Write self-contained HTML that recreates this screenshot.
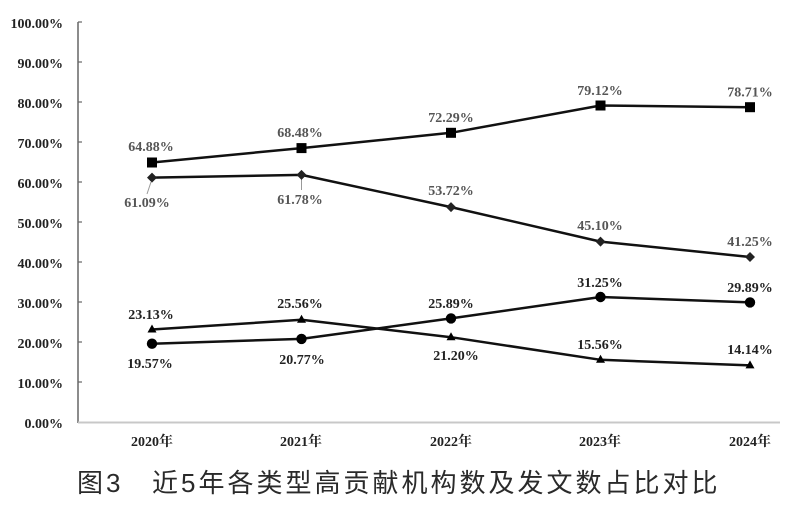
<!DOCTYPE html>
<html>
<head>
<meta charset="utf-8">
<style>
html,body{margin:0;padding:0;background:#fff;}
body{width:808px;height:508px;position:relative;overflow:hidden;}
svg{position:absolute;left:0;top:0;}
.t{font-family:"Liberation Serif","Noto Serif CJK SC",serif;font-weight:bold;font-size:14px;}
.title{position:absolute;top:468px;font-family:"Liberation Sans","Noto Sans CJK SC",sans-serif;font-size:26px;color:#2a2a2a;letter-spacing:3px;white-space:nowrap;line-height:30px;}
</style>
</head>
<body>
<svg width="808" height="508" viewBox="0 0 808 508" xmlns="http://www.w3.org/2000/svg">
  <!-- axes -->
  <line x1="78" y1="22" x2="78" y2="423" stroke="#666" stroke-width="1.5"/>
  <line x1="78" y1="422.5" x2="780" y2="422.5" stroke="#c8c8c8" stroke-width="2"/>
  <g stroke="#666" stroke-width="1.2">
    <line x1="78" y1="22" x2="82" y2="22"/>
    <line x1="78" y1="62" x2="82" y2="62"/>
    <line x1="78" y1="102" x2="82" y2="102"/>
    <line x1="78" y1="142" x2="82" y2="142"/>
    <line x1="78" y1="182" x2="82" y2="182"/>
    <line x1="78" y1="222" x2="82" y2="222"/>
    <line x1="78" y1="262" x2="82" y2="262"/>
    <line x1="78" y1="302" x2="82" y2="302"/>
    <line x1="78" y1="342" x2="82" y2="342"/>
    <line x1="78" y1="382" x2="82" y2="382"/>
  </g>
  <!-- y tick labels -->
  <g class="t" fill="#222" text-anchor="end">
    <text x="63" y="28">100.00%</text>
    <text x="63" y="68">90.00%</text>
    <text x="63" y="108">80.00%</text>
    <text x="63" y="148">70.00%</text>
    <text x="63" y="188">60.00%</text>
    <text x="63" y="228">50.00%</text>
    <text x="63" y="268">40.00%</text>
    <text x="63" y="308">30.00%</text>
    <text x="63" y="348">20.00%</text>
    <text x="63" y="388">10.00%</text>
    <text x="63" y="428">0.00%</text>
  </g>
  <!-- x labels -->
  <g class="t" fill="#222" text-anchor="middle">
    <text x="152" y="446">2020年</text>
    <text x="301" y="446">2021年</text>
    <text x="451" y="446">2022年</text>
    <text x="600" y="446">2023年</text>
    <text x="750" y="446">2024年</text>
  </g>
  <!-- series lines -->
  <g fill="none" stroke="#111" stroke-width="2.5" stroke-linejoin="round">
    <polyline points="152,162.5 301.5,148.1 451,132.8 600.5,105.5 750,107.2"/>
    <polyline points="152,177.6 301.5,174.9 451,207.1 600.5,241.6 750,257"/>
    <polyline points="152,343.7 301.5,338.9 451,318.4 600.5,297 750,302.4"/>
    <polyline points="152,329.5 301.5,319.8 451,337.2 600.5,359.8 750,365.4"/>
  </g>
  <!-- leader lines -->
  <g stroke="#999" stroke-width="1">
    <line x1="151" y1="182" x2="147" y2="194"/>
    <line x1="301.5" y1="179" x2="301.5" y2="190"/>
  </g>
  <!-- squares -->
  <g fill="#000">
    <rect x="147" y="157.5" width="10" height="10"/>
    <rect x="296.5" y="143.1" width="10" height="10"/>
    <rect x="446" y="127.8" width="10" height="10"/>
    <rect x="595.5" y="100.5" width="10" height="10"/>
    <rect x="745" y="102.2" width="10" height="10"/>
  </g>
  <!-- diamonds -->
  <g fill="#222">
    <polygon points="152,172.6 157,177.6 152,182.6 147,177.6"/>
    <polygon points="301.5,169.9 306.5,174.9 301.5,179.9 296.5,174.9"/>
    <polygon points="451,202.1 456,207.1 451,212.1 446,207.1"/>
    <polygon points="600.5,236.6 605.5,241.6 600.5,246.6 595.5,241.6"/>
    <polygon points="750,252 755,257 750,262 745,257"/>
  </g>
  <!-- circles -->
  <g fill="#000">
    <circle cx="152" cy="343.7" r="5.2"/>
    <circle cx="301.5" cy="338.9" r="5.2"/>
    <circle cx="451" cy="318.4" r="5.2"/>
    <circle cx="600.5" cy="297" r="5.2"/>
    <circle cx="750" cy="302.4" r="5.2"/>
  </g>
  <!-- triangles -->
  <g fill="#000">
    <polygon points="152,324.5 156.5,332.5 147.5,332.5"/>
    <polygon points="301.5,314.8 306,322.8 297,322.8"/>
    <polygon points="451,332.2 455.5,340.2 446.5,340.2"/>
    <polygon points="600.5,354.8 605,362.8 596,362.8"/>
    <polygon points="750,360.4 754.5,368.4 745.5,368.4"/>
  </g>
  <!-- data labels top series -->
  <g class="t" fill="#555" text-anchor="middle">
    <text x="151" y="151">64.88%</text>
    <text x="300" y="137">68.48%</text>
    <text x="451" y="122">72.29%</text>
    <text x="600" y="95">79.12%</text>
    <text x="750" y="96.5">78.71%</text>
    <text x="147" y="207">61.09%</text>
    <text x="300" y="204">61.78%</text>
    <text x="451" y="195">53.72%</text>
    <text x="600" y="230">45.10%</text>
    <text x="750" y="246">41.25%</text>
  </g>
  <g class="t" fill="#222" text-anchor="middle">
    <text x="150" y="368">19.57%</text>
    <text x="302" y="364">20.77%</text>
    <text x="451" y="308">25.89%</text>
    <text x="600" y="287">31.25%</text>
    <text x="750" y="292">29.89%</text>
    <text x="151" y="319">23.13%</text>
    <text x="300" y="308">25.56%</text>
    <text x="456" y="360">21.20%</text>
    <text x="600" y="349">15.56%</text>
    <text x="750" y="354">14.14%</text>
  </g>
</svg>
<div class="title" style="left:77px;">图3</div>
<div class="title" style="left:152px;">近5年各类型高贡献机构数及发文数占比对比</div>
</body>
</html>
